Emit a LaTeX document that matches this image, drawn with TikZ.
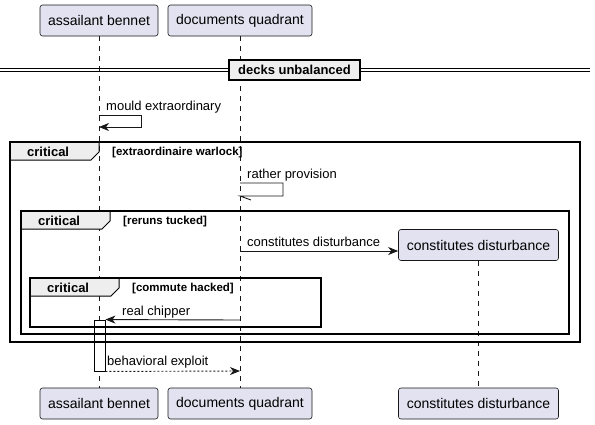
\documentclass[tikz,border=0pt]{standalone}
\usepackage{fontspec}
\setmainfont{Liberation Sans}
\usetikzlibrary{arrows.meta}

\definecolor{partfill}{HTML}{E2E2F0}
\definecolor{partline}{HTML}{181818}
\definecolor{tabfill}{HTML}{EEEEEE}

\begin{document}
\begin{tikzpicture}[x=1pt,y=-1pt,
		part/.style={draw=partline,fill=partfill,rounded corners=2.5pt,line width=0.6pt,
			minimum height=31pt,minimum width=#1,inner sep=0pt,font=\fontsize{14}{16}\selectfont},
		part/.default=118pt,
		lifeline/.style={draw=partline,line width=0.5pt,dash pattern=on 5pt off 5pt},
		msg/.style={draw=partline,line width=0.9pt,-{Stealth[length=10pt,width=8pt,inset=3pt]}},
		txt/.style={anchor=base west,inner sep=0pt,font=\fontsize{13}{15}\selectfont},
		frame/.style={draw=black,line width=1.5pt},
		tab/.style={draw=black,fill=tabfill,line width=1pt},
		grp/.style={anchor=base west,inner sep=0pt,font=\bfseries\fontsize{13}{15}\selectfont},
		cond/.style={anchor=base west,inner sep=0pt,font=\bfseries\fontsize{11.5}{13}\selectfont}]
		
		\useasboundingbox (0,0) rectangle (595,424);
		
		%participants
		\foreach \nm/\x/\w/\txt in {ab/99/118/assailant bennet,dq/240/144/documents quadrant}
		{
			\node[part=\w pt] (\nm-top) at (\x,20.5) {\txt};
			\node[part=\w pt] (\nm-bot) at (\x,403.5) {\txt};
		}
		\node[part=160pt] (cd-top) at (478.5,245) {constitutes disturbance};
		\node[part=160pt] (cd-bot) at (478.5,403.5) {constitutes disturbance};
		
		%lifelines
		\foreach \nm in {ab,dq,cd}
			\draw[lifeline] (\nm-top) -- (\nm-bot);
		
		%separator
		\draw[line width=1pt] (0,68.5) -- (590,68.5);
		\draw[line width=1pt] (0,71.5) -- (590,71.5);
		\node[draw=black,fill=tabfill,line width=2pt,minimum width=131pt,minimum height=20pt,
			inner sep=0pt,font=\bfseries\fontsize{13}{15}\selectfont] (sep) at (294.5,70) {decks unbalanced};
		
		%self messages
		\coordinate (s1) at (99,115);
		\draw[msg] (s1) -- ++(42,0) -- ++(0,12) -- ++(-42,0);
		\node[txt] (s1-lbl) at (106,110) {mould extraordinary};
		
		\coordinate (s2) at (240,183);
		\draw[draw=partline,line width=0.9pt] (s2) -- ++(43,0) -- ++(0,13) -- ++(-43,0) -- ++(11,4);
		\node[txt] (s2-lbl) at (247,178) {rather provision};
		
		%activation
		\node[draw=black,fill=white,line width=0.9pt,minimum width=11pt,minimum height=51pt,inner sep=0pt]
			(act) at (99.5,345.5) {};
		
		%groups
		\foreach \nm/\l/\t/\r/\b/\cnd in {g1/10/142/580/342/extraordinaire warlock,
			g2/21/211/569/334/reruns tucked,g3/30/278/321/327/commute hacked}
		{
			\draw[tab] (\l,\t) -- ++(89,0) -- ++(0,10) -- ++(-8,8) -- (\l,\t+18) -- cycle;
			\draw[frame] (\l,\t) rectangle (\r,\b);
			\node[grp] (\nm-lbl) at (\l+17,\t+14) {critical};
			\node[cond] (\nm-cnd) at (\l+102,\t+13) {[\cnd]};
		}
		
		%messages
		\coordinate (m1) at (240,251);
		\draw[msg] (m1) -- (cd-top.west |- m1);
		\node[txt] (m1-lbl) at (247,246) {constitutes disturbance};
		
		\coordinate (m2) at (240,320);
		\draw[msg] (m2) -- (act.north east);
		\node[txt] (m2-lbl) at (122,315) {real chipper};
		
		\coordinate (m3) at (240,371);
		\draw[msg,dash pattern=on 2pt off 2pt] (act.south east) -- (m3);
		\node[txt] (m3-lbl) at (107,365) {behavioral exploit};
		
	\end{tikzpicture}
\end{document}
